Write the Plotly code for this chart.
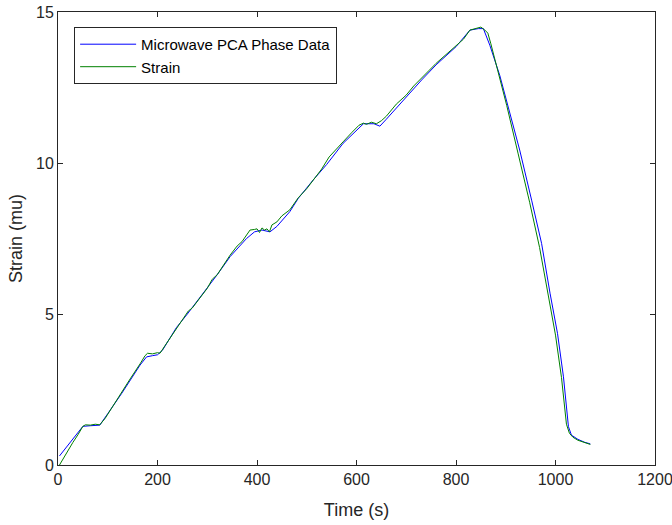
import plotly.graph_objects as go

# Microwave PCA phase data (blue)
phase_t = [3, 30, 50, 65, 84, 100, 128, 165, 178, 190, 200, 210, 238, 260, 292, 320, 346, 379, 395,
           410, 426, 440, 466, 483, 513, 540, 573, 595, 614, 635, 647, 660, 700, 731, 760, 800, 828,
           845, 855, 868, 888, 908, 928, 952, 972, 989, 1004, 1016, 1026, 1032, 1045, 1059, 1070]
phase_s = [0.3, 0.85, 1.28, 1.3, 1.32, 1.7, 2.37, 3.31, 3.58, 3.62, 3.65, 3.8, 4.55, 5.0, 5.68, 6.3,
           6.9, 7.5, 7.72, 7.78, 7.72, 7.9, 8.39, 8.83, 9.44, 9.95, 10.65, 11.0, 11.3, 11.3, 11.22,
           11.45, 12.2, 12.75, 13.25, 13.85, 14.4, 14.45, 14.45, 13.9, 12.9, 11.7, 10.43, 8.77, 7.34,
           5.69, 4.36, 2.92, 1.27, 0.99, 0.85, 0.75, 0.7]

# Strain (green)
strain_t = [3, 10, 20, 30, 40, 50, 55, 65, 75, 84, 95, 110, 128, 145, 165, 175, 180, 190, 200, 205,
            215, 238, 250, 262, 270, 292, 300, 310, 320, 346, 360, 370, 379, 386, 395, 400, 405, 410,
            415, 420, 425, 430, 440, 450, 466, 483, 500, 513, 530, 545, 560, 573, 590, 605, 614, 620,
            630, 640, 650, 660, 680, 700, 715, 731, 745, 760, 780, 800, 815, 828, 840, 850, 858, 864,
            870, 882, 902, 925, 948, 968, 985, 1000, 1012, 1022, 1028, 1035, 1045, 1058, 1070]
strain_s = [0.0, 0.2, 0.45, 0.75, 1.0, 1.28, 1.33, 1.32, 1.35, 1.33, 1.55, 1.95, 2.4, 2.85, 3.35,
            3.62, 3.7, 3.68, 3.72, 3.7, 3.95, 4.5, 4.8, 5.1, 5.2, 5.7, 5.85, 6.15, 6.3, 6.95, 7.25,
            7.4, 7.6, 7.78, 7.8, 7.82, 7.7, 7.85, 7.78, 7.82, 7.72, 7.95, 8.05, 8.25, 8.45, 8.85, 9.15,
            9.45, 9.8, 10.2, 10.45, 10.7, 11.0, 11.25, 11.32, 11.28, 11.35, 11.3, 11.4, 11.55, 11.95,
            12.25, 12.55, 12.8, 13.05, 13.3, 13.6, 13.9, 14.1, 14.4, 14.45, 14.5, 14.4, 14.3, 13.95,
            13.2, 11.9, 10.3, 8.7, 7.2, 5.7, 4.3, 2.9, 1.35, 1.05, 0.92, 0.82, 0.75, 0.68]

x_ticks = [0, 200, 400, 600, 800, 1000, 1200]
y_ticks = [0, 5, 10, 15]

fig = go.Figure()
fig.add_trace(go.Scatter(x=phase_t, y=phase_s, mode='lines', name='Microwave PCA Phase Data',
                         line=dict(color='#0000ff', width=1)))
fig.add_trace(go.Scatter(x=strain_t, y=strain_s, mode='lines', name='Strain',
                         line=dict(color='#008000', width=1)))

axis_style = dict(showline=True, mirror='ticks', linecolor='#262626', linewidth=1, automargin=False,
                  ticks='inside', ticklen=5, tickcolor='#262626', showgrid=False, zeroline=False,
                  ticklabeloverflow='allow', tickfont=dict(size=16, color='#262626'))

fig.update_layout(
    width=672, height=525,
    margin=dict(l=58, r=17, t=12, b=60),
    paper_bgcolor='white', plot_bgcolor='white',
    font=dict(family='Liberation Sans, Arial, sans-serif', color='#262626'),
    xaxis=dict(range=[0, 1200], tickvals=x_ticks,
               title=dict(text='Time (s)', font=dict(size=18), standoff=16), **axis_style),
    yaxis=dict(range=[0, 15], tickvals=y_ticks,
               title=dict(text='Strain (mu)', font=dict(size=18), standoff=8), **axis_style),
    legend=dict(x=0.027, y=0.967, xanchor='left', yanchor='top', itemwidth=56,
                bordercolor='#262626', borderwidth=1, bgcolor='white',
                font=dict(size=15, color='black'), tracegroupgap=0),
    showlegend=True,
)

# drop the default page margin so the figure sits at the window's corner
fig.write_html("out.html", config={'displayModeBar': False},
               post_script="document.body.style.margin='0';")
